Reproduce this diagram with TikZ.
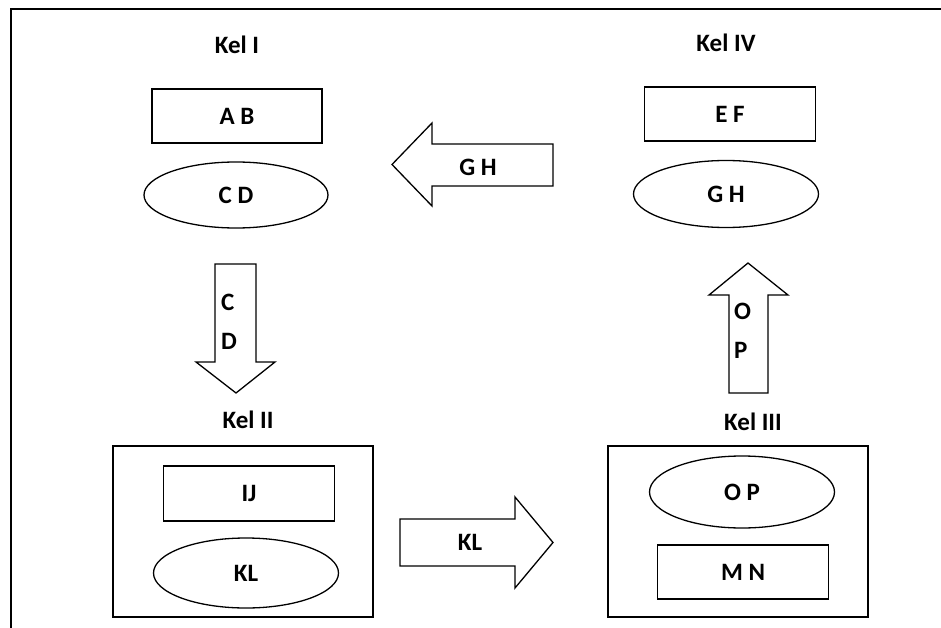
\documentclass[tikz,border=0pt]{standalone}
\usepackage{fontspec}
\setmainfont{Carlito}
\usetikzlibrary{shapes.geometric}
\begin{document}
\begin{tikzpicture}[x=1pt,y=-1pt,
  every node/.style={font=\fontsize{25}{30}\selectfont\bfseries, inner sep=0pt},
  frame/.style={line width=1.6pt},
  shp/.style={draw, line width=1.3pt},
  boxn/.style={shp, rectangle, minimum width=170pt, minimum height=54pt},
  ellip/.style={shp, ellipse, minimum width=184pt, minimum height=66pt},
  grp/.style={shp, rectangle, minimum width=260pt, minimum height=171pt},
  barrow/.style={draw, line width=1.3pt, line join=miter}
]
\useasboundingbox (0,0) rectangle (941,628);
\draw[frame] (11,628) -- (11,9) -- (941,9);

% Kel I
\node (k1) at (237,45) {Kel I};
\node[boxn] (ab) at (237,116) {A B};
\node[ellip] (cd) at (236,195) {C D};

% Kel IV
\node (k4) at (726,43) {Kel IV};
\node[boxn, minimum width=171pt] (ef) at (730,114) {E F};
\node[ellip, minimum width=185pt, minimum height=67pt] (gh) at (726,194) {G H};

% Kel II
\node (k2) at (248,420) {Kel II};
\node[grp] (g2) at (243,531.5) {};
\node[boxn, minimum width=171pt, minimum height=55pt] (ij) at (249,493.5) {IJ};
\node[ellip, minimum width=185pt, minimum height=70pt] (kl) at (246,573) {KL};

% Kel III
\node (k3) at (753,422) {Kel III};
\node[grp] (g3) at (738,531.5) {};
\node[ellip, minimum width=185pt, minimum height=72pt] (op) at (742,492) {O P};
\node[boxn, minimum width=171pt] (mn) at (743,572) {M N};

% Arrow G H (left)
\draw[barrow] (553,144) -- (432,144) -- (432,123) -- (392,164.5) -- (432,206) -- (432,186) -- (553,186) -- cycle;
\node (agh) at (478,167) {G H};

% Arrow C D (down)
\draw[barrow] (215,264) -- (256,264) -- (256,362) -- (275,362) -- (236,393) -- (196,362) -- (215,362) -- cycle;
\node[anchor=west] (ac) at (221,302) {C};
\node[anchor=west] (ad) at (221,341) {D};

% Arrow K L (right)
\draw[barrow] (400,519) -- (515,519) -- (515,497) -- (553,542.5) -- (515,588) -- (515,566) -- (400,566) -- cycle;
\node (akl) at (470,542) {KL};

% Arrow O P (up)
\draw[barrow] (729,393) -- (768,393) -- (768,295) -- (788,295) -- (748,263) -- (709,295) -- (729,295) -- cycle;
\node[anchor=west] (ao) at (734,311) {O};
\node[anchor=west] (ap) at (734,350) {P};
\end{tikzpicture}
\end{document}
